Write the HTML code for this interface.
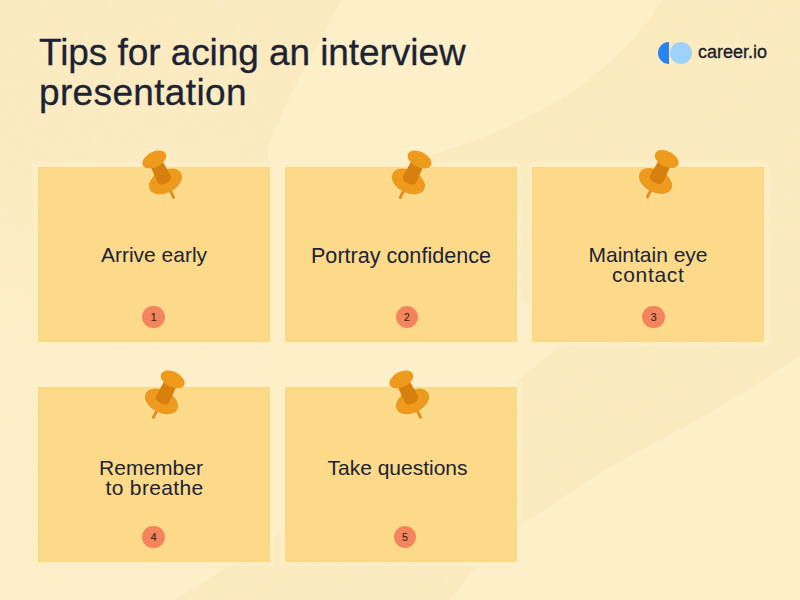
<!DOCTYPE html>
<html>
<head>
<meta charset="utf-8">
<style>
html,body{margin:0;padding:0;}
body{width:800px;height:600px;overflow:hidden;position:relative;background:#fdefc8;font-family:"Liberation Sans",sans-serif;color:#1c2335;}
#bg{position:absolute;left:0;top:0;width:800px;height:600px;}
.title{position:absolute;left:39px;top:33px;font-size:37px;line-height:39.5px;white-space:nowrap;-webkit-text-stroke:0.3px #1c2335;}
.title span{display:block;}
.logo{position:absolute;left:658px;top:42px;width:120px;height:22px;}
.logo .d{position:absolute;left:0;top:0;width:11px;height:22px;background:#2783ee;border-radius:11px 0 0 11px;}
.logo .l{position:absolute;left:12px;top:0;width:22px;height:22px;background:#9fd2fb;border-radius:50%;}
.logo .t{position:absolute;left:40px;top:-1px;font-size:18px;line-height:22px;white-space:nowrap;color:#1a1d2b;-webkit-text-stroke:0.35px #1a1d2b;}
.card{position:absolute;width:232px;height:175px;background:#fcda8a;box-shadow:0 0 3px 5px rgba(253,239,200,0.85), inset 0 0 2px 1px rgba(252,212,125,0.6);}
.card .txt{position:absolute;left:0;width:100%;top:78px;text-align:center;font-size:21px;line-height:20px;}
.num{position:absolute;width:22.5px;height:22.5px;border-radius:50%;background:#f3845b;font-size:10.5px;-webkit-text-stroke:0.15px #3a2824;line-height:22.5px;text-align:center;color:#3a2824;}
</style>
</head>
<body>
<svg id="bg" width="800" height="600" viewBox="0 0 800 600">
  <defs>
    <filter id="nz" x="0" y="0" width="100%" height="100%">
      <feTurbulence type="fractalNoise" baseFrequency="0.12" numOctaves="3" seed="3" result="t"/>
      <feColorMatrix in="t" type="matrix" values="0 0 0 0 0.94  0 0 0 0 0.86  0 0 0 0 0.62  0 0 0 3 -1.3"/>
      <feComposite in2="SourceGraphic" operator="in"/>
    </filter>
    <linearGradient id="lf" x1="0" y1="0" x2="0" y2="1" gradientUnits="objectBoundingBox"><stop offset="0" stop-color="#fbe9bd" stop-opacity="0.85"/><stop offset="0.3" stop-color="#fbe9bd" stop-opacity="0.7"/><stop offset="0.6" stop-color="#fbe9bd" stop-opacity="0"/></linearGradient>
    <clipPath id="dk">
      <path d="M0 0 L341 0 C314 55 284 100 268 150 L265 600 L0 600 Z"/>
      <path d="M662 0 C650 18 640 32 627 45 C605 68 585 84 558 100 C520 123 480 140 440 152 L380 170 L480 260 L566 342 L518 380 L175 600 L450 600 C480 560 510 530 533 517 C560 500 580 485 604 471 C640 450 670 435 698 420 C740 396 770 375 800 356 L800 0 Z"/>
    </clipPath>
  </defs>
  <path d="M0 0 L341 0 C314 55 284 100 268 150 L265 600 L0 600 Z" fill="url(#lf)"/>
  <path d="M662 0 C650 18 640 32 627 45 C605 68 585 84 558 100 C520 123 480 140 440 152 L380 170 L480 260 L566 342 L518 380 L175 600 L450 600 C480 560 510 530 533 517 C560 500 580 485 604 471 C640 450 670 435 698 420 C740 396 770 375 800 356 L800 0 Z" fill="#fbeabd"/>
  <g clip-path="url(#dk)"><rect width="800" height="600" fill="#000" filter="url(#nz)" opacity="0.35"/></g>
</svg>

<div class="card" style="left:38px;top:167px;"><div class="txt">Arrive early</div></div>
<div class="card" style="left:285px;top:167px;"><div class="txt" style="font-size:21.6px;top:78.7px">Portray confidence</div></div>
<div class="card" style="left:532px;top:167px;"><div class="txt">Maintain eye<br><span style="letter-spacing:0.7px;position:relative;left:0.3px">contact</span></div></div>
<div class="card" style="left:38px;top:387px;"><div class="txt" style="top:70.5px;left:-3px;">Remember<br><span style="letter-spacing:0.35px;position:relative;left:3.5px">to breathe</span></div></div>
<div class="card" style="left:285px;top:387px;"><div class="txt" style="top:70.5px;left:-3.5px;">Take questions</div></div>

<div class="title"><span style="letter-spacing:-0.07px">Tips for acing an interview</span><span style="letter-spacing:0.35px">presentation</span></div>

<div class="logo"><div class="d"></div><div class="l"></div><div class="t">career.io</div></div>

<div class="num" style="left:142.4px;top:305.7px;">1</div>
<div class="num" style="left:395.6px;top:305.7px;">2</div>
<div class="num" style="left:642.4px;top:305.7px;">3</div>
<div class="num" style="left:142.4px;top:525.7px;">4</div>
<div class="num" style="left:393.6px;top:525.7px;">5</div>

<svg width="800" height="600" style="position:absolute;left:0;top:0;" viewBox="0 0 800 600">
  <defs>
    <g id="pin">
      <g fill="none" stroke="#fdf0ca" stroke-width="2.2" opacity="0.45">
        <ellipse cx="0" cy="0" rx="17.8" ry="11.4"/>
        <ellipse cx="0" cy="-24.6" rx="12.8" ry="7.7"/>
        <rect x="-1.6" y="6" width="3.2" height="13.6" rx="1.6"/>
      </g>
      <rect x="-1.6" y="6" width="3.2" height="13.6" rx="1.6" fill="#e8901a"/>
      <ellipse cx="0" cy="0" rx="17.8" ry="11.4" fill="#ee9a1c"/>
      <path d="M-6.3 -24.6 L6.3 -24.6 L7.4 -2.5 A7.4 4.5 0 0 1 -7.4 -2.5 Z" fill="#d7800f"/>
      <ellipse cx="0" cy="-24.6" rx="12.8" ry="7.7" fill="#ee9a1c"/>
    </g>
  </defs>
  <use href="#pin" transform="translate(165.5 181.5) rotate(-27)"/>
  <use href="#pin" transform="translate(408.4 181.5) rotate(27)"/>
  <use href="#pin" transform="translate(655.5 181) rotate(27)"/>
  <use href="#pin" transform="translate(161.5 401.4) rotate(27)"/>
  <use href="#pin" transform="translate(412.5 401.4) rotate(-27)"/>
</svg>
</body>
</html>
